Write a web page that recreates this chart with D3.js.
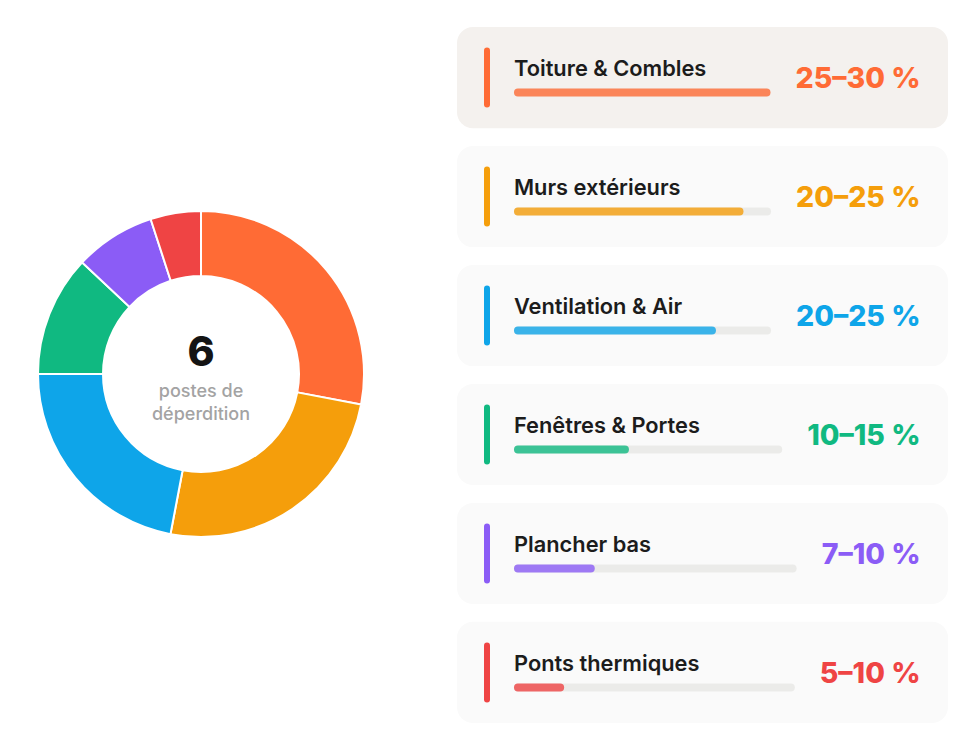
<!DOCTYPE html>
<html lang="fr">
<head>
    <meta charset="UTF-8">
    <title>Postes de déperdition</title>
    <script src="https://d3js.org/d3.v7.min.js"></script>
    <style>
        body { margin: 0; background: #fff; font-family: Inter, "Noto Sans", sans-serif; }
    </style>
</head>
<body>
    <div id="chart"></div>

    <script>
        // data
        const postes = ["Toiture & Combles", "Murs extérieurs", "Ventilation & Air",
                        "Fenêtres & Portes", "Plancher bas", "Ponts thermiques"];
        const parts = [28, 25, 22, 12, 8, 5];
        const ranges = ["25–30 %", "20–25 %", "20–25 %", "10–15 %", "7–10 %", "5–10 %"];
        const colors = ["#ff6b35", "#f59e0b", "#0ea5e9", "#10b981", "#8b5cf6", "#ef4444"];

        const rows = postes.map((p, i) => ({name: p, value: parts[i], range: ranges[i], color: colors[i], i: i}));

        const width = 960, height = 741;
        const svg = d3.select("#chart").append("svg")
            .attr("width", width)
            .attr("height", height);

        // donut --------------------------------------------------------
        const cx = 201, cy = 374;
        const pie = d3.pie().value(d => d.value).sort(null);
        const arc = d3.arc().innerRadius(98).outerRadius(163);

        const donut = svg.append("g").attr("transform", `translate(${cx},${cy})`);
        donut.selectAll("path")
            .data(pie(rows))
            .join("path")
            .attr("d", arc)
            .attr("fill", d => d.data.color)
            .attr("stroke", "#fff")
            .attr("stroke-width", 2);

        donut.append("text")
            .attr("y", -8)
            .attr("text-anchor", "middle")
            .attr("font-size", 41)
            .attr("font-weight", 800)
            .attr("fill", "#141414")
            .text(postes.length);
        donut.append("text")
            .attr("y", 23)
            .attr("text-anchor", "middle")
            .attr("font-size", 18)
            .attr("font-weight", 500)
            .attr("fill", "#a3a3a3")
            .text("postes de");
        donut.append("text")
            .attr("y", 46)
            .attr("text-anchor", "middle")
            .attr("font-size", 18)
            .attr("font-weight", 500)
            .attr("fill", "#a3a3a3")
            .text("déperdition");

        // cards ------------------------------------------------------------
        const cardX = 457, cardW = 491;
        const yBand = d3.scaleBand().domain(postes).range([27, 723]).paddingInner(0.15);

        const cards = svg.selectAll("g.card")
            .data(rows)
            .join("g")
            .attr("class", "card")
            .attr("transform", d => `translate(${cardX},${yBand(d.name)})`);

        const bh = yBand.bandwidth();

        cards.append("rect")
            .attr("width", cardW)
            .attr("height", bh)
            .attr("rx", 16)
            .attr("fill", d => d.i === 0 ? "#f4f1ee" : "#fafafa");

        // accent bar
        cards.append("line")
            .attr("x1", 30).attr("x2", 30)
            .attr("y1", bh / 2 - 27).attr("y2", bh / 2 + 27)
            .attr("stroke", d => d.color)
            .attr("stroke-width", 6)
            .attr("stroke-linecap", "round");

        cards.append("text")
            .attr("x", 57)
            .attr("y", bh / 2 - 1.5)
            .attr("font-size", 21.8)
            .attr("font-weight", 600)
            .attr("fill", "#1c1c1c")
            .text(d => d.name);

        const pct = cards.append("text")
            .attr("x", 463.5)
            .attr("y", bh / 2 + 10.5)
            .attr("text-anchor", "end")
            .attr("font-size", 28.5)
            .attr("font-weight", 800)
            .attr("fill", d => d.color)
            .text(d => d.range);

        const maxVal = d3.max(parts);
        const barX = 57, barH = 8, barY = bh / 2 + 11;

        cards.each(function(d, i) {
            const g = d3.select(this);
            const txtW = pct.nodes()[i].getComputedTextLength();
            const trackEnd = 463.5 - txtW - 25;
            const x = d3.scaleLinear().domain([0, maxVal]).range([0, trackEnd - barX]);

            g.append("rect")
                .attr("x", barX)
                .attr("y", barY)
                .attr("width", x(maxVal))
                .attr("height", barH)
                .attr("rx", barH / 2)
                .attr("fill", "#ebebe9");
            g.append("rect")
                .attr("x", barX)
                .attr("y", barY)
                .attr("width", x(d.value))
                .attr("height", barH)
                .attr("rx", barH / 2)
                .attr("fill", d.color)
                .attr("opacity", 0.8);
        });
    </script>
</body>
</html>
